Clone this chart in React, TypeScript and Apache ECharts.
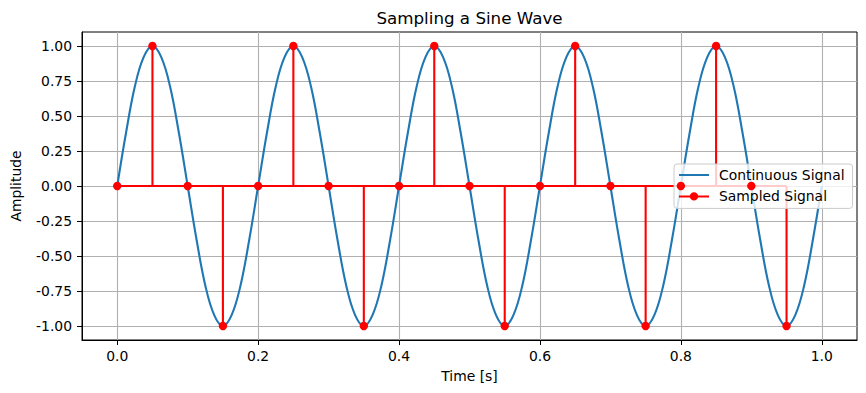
import React, { useEffect, useRef } from "react";
import * as echarts from "echarts";

const TITLE = "Sampling a Sine Wave";
const X_NAME = "Time [s]";
const Y_NAME = "Amplitude";

// Continuous signal
const contTime = [
  0, 0.0125, 0.025, 0.0375, 0.05, 0.0625, 0.075, 0.0875, 0.1, 0.1125, 0.125, 0.1375, 0.15, 0.1625, 0.175, 0.1875,
  0.2, 0.2125, 0.225, 0.2375, 0.25, 0.2625, 0.275, 0.2875, 0.3, 0.3125, 0.325, 0.3375, 0.35, 0.3625, 0.375, 0.3875,
  0.4, 0.4125, 0.425, 0.4375, 0.45, 0.4625, 0.475, 0.4875, 0.5, 0.5125, 0.525, 0.5375, 0.55, 0.5625, 0.575, 0.5875,
  0.6, 0.6125, 0.625, 0.6375, 0.65, 0.6625, 0.675, 0.6875, 0.7, 0.7125, 0.725, 0.7375, 0.75, 0.7625, 0.775, 0.7875,
  0.8, 0.8125, 0.825, 0.8375, 0.85, 0.8625, 0.875, 0.8875, 0.9, 0.9125, 0.925, 0.9375, 0.95, 0.9625, 0.975, 0.9875,
  1.0,
];
const contValue = [
  0, 0.38, 0.71, 0.92, 1, 0.92, 0.71, 0.38, 0, -0.38, -0.71, -0.92, -1, -0.92, -0.71, -0.38,
  0, 0.38, 0.71, 0.92, 1, 0.92, 0.71, 0.38, 0, -0.38, -0.71, -0.92, -1, -0.92, -0.71, -0.38,
  0, 0.38, 0.71, 0.92, 1, 0.92, 0.71, 0.38, 0, -0.38, -0.71, -0.92, -1, -0.92, -0.71, -0.38,
  0, 0.38, 0.71, 0.92, 1, 0.92, 0.71, 0.38, 0, -0.38, -0.71, -0.92, -1, -0.92, -0.71, -0.38,
  0, 0.38, 0.71, 0.92, 1, 0.92, 0.71, 0.38, 0, -0.38, -0.71, -0.92, -1, -0.92, -0.71, -0.38,
  0,
];

// Sampled signal
const sampleTime = [
  0, 0.05, 0.1, 0.15, 0.2, 0.25, 0.3, 0.35, 0.4, 0.45, 0.5, 0.55, 0.6, 0.65, 0.7, 0.75, 0.8, 0.85, 0.9, 0.95,
];
const sampleValue = [0, 1, 0, -1, 0, 1, 0, -1, 0, 1, 0, -1, 0, 1, 0, -1, 0, 1, 0, -1];

const xTicks = [0, 0.2, 0.4, 0.6, 0.8, 1.0];
const yTicks = [-1, -0.75, -0.5, -0.25, 0, 0.25, 0.5, 0.75, 1];
const baselineX = [0, 0.95];

const FONT = "DejaVu Sans";
const BLUE = "#1f77b4";
const RED = "#ff0000";

export default function App() {
  const ref = useRef<HTMLDivElement>(null);
  useEffect(() => {
    if (!ref.current) return;
    const chart = echarts.init(ref.current, undefined, { renderer: "svg" });
    const cont = contTime.map((t, i) => [t, contValue[i]]);
    const samples = sampleTime.map((t, i) => [t, sampleValue[i]]);
    const base = baselineX.map((t) => [t, 0]);
    const axisCommon = {
      axisLine: { show: true, onZero: false, lineStyle: { color: "#000", width: 1 } },
      axisTick: { show: true, length: 5, lineStyle: { color: "#000", width: 1 } },
      splitLine: { show: true, lineStyle: { color: "#b0b0b0", width: 1.1 } },
    };
    chart.setOption({
      animation: false,
      textStyle: { fontFamily: FONT },
      title: {
        text: TITLE,
        left: 469.5,
        top: 9,
        padding: 0,
        textAlign: "center",
        textStyle: { fontFamily: FONT, fontSize: 16.7, fontWeight: "normal", color: "#000" },
      },
      grid: { left: 82, top: 32, right: 9, bottom: 53, containLabel: false, show: true, borderColor: "#000", borderWidth: 1, backgroundColor: "transparent" },
      legend: {
        orient: "vertical",
        left: 674,
        top: 164,
        padding: [4, 8, 5, 5],
        itemGap: 7.4,
        itemWidth: 30,
        itemHeight: 14,
        backgroundColor: "rgba(255,255,255,0.8)",
        borderColor: "#cccccc",
        borderWidth: 1,
        borderRadius: 3,
        textStyle: { fontFamily: FONT, fontSize: 13.9, color: "#000", padding: [0, 0, 0, 5] },
        data: [
          { name: "Continuous Signal", icon: "path://M0,6 L30,6 L30,8 L0,8 Z" },
          { name: "Sampled Signal", icon: "path://M0,6 L30,6 L30,8.1 L0,8.1 Z M19.2,7 A4.2,4.2 0 1,1 10.8,7 A4.2,4.2 0 1,1 19.2,7 Z M0,1 L0.01,1 L0.01,1.01 Z M0,13 L0.01,13 L0.01,13.01 Z" },
        ],
      },
      xAxis: {
        type: "value",
        min: -0.05,
        max: 1.05,
        name: X_NAME,
        nameLocation: "middle",
        nameGap: 29,
        nameTextStyle: { fontFamily: FONT, fontSize: 13.9, color: "#000" },
        ...axisCommon,
        axisTick: { ...axisCommon.axisTick, customValues: xTicks },
        axisLabel: { customValues: xTicks, margin: 9, fontFamily: FONT, fontSize: 13.9, color: "#000", formatter: (v: number) => v.toFixed(1) },
        splitLine: { ...axisCommon.splitLine },
      },
      yAxis: {
        type: "value",
        min: -1.1,
        max: 1.1,
        name: Y_NAME,
        nameLocation: "middle",
        nameGap: 59,
        nameTextStyle: { fontFamily: FONT, fontSize: 13.9, color: "#000" },
        ...axisCommon,
        axisTick: { ...axisCommon.axisTick, customValues: yTicks },
        axisLabel: { customValues: yTicks, margin: 10, fontFamily: FONT, fontSize: 13.9, color: "#000", formatter: (v: number) => v.toFixed(2) },
      },
      series: [
        {
          name: "Continuous Signal",
          type: "line",
          data: cont,
          smooth: 0.4,
          showSymbol: false,
          symbol: "none",
          lineStyle: { color: BLUE, width: 2.1 },
          itemStyle: { color: BLUE },
          z: 2,
        },
        {
          name: "stems",
          type: "custom",
          data: samples,
          encode: { x: 0, y: 1 },
          renderItem: (params: any, api: any) => {
            const x = api.value(0);
            const y = api.value(1);
            const p0 = api.coord([x, 0]);
            const p1 = api.coord([x, y]);
            return {
              type: "line",
              shape: { x1: p0[0], y1: p0[1], x2: p1[0], y2: p1[1] },
              style: { stroke: RED, lineWidth: 2.1 },
            };
          },
          z: 3,
        },
        {
          name: "baseline",
          type: "line",
          data: base,
          showSymbol: false,
          symbol: "none",
          lineStyle: { color: RED, width: 2.1 },
          z: 3,
        },
        {
          name: "Sampled Signal",
          type: "scatter",
          data: samples,
          symbol: "circle",
          symbolSize: 8.4,
          itemStyle: { color: RED, opacity: 1 },
          z: 4,
        },
      ],
    });
    return () => chart.dispose();
  }, []);
  return <div ref={ref} style={{ width: 866, height: 393, margin: -8 }} />;
}
